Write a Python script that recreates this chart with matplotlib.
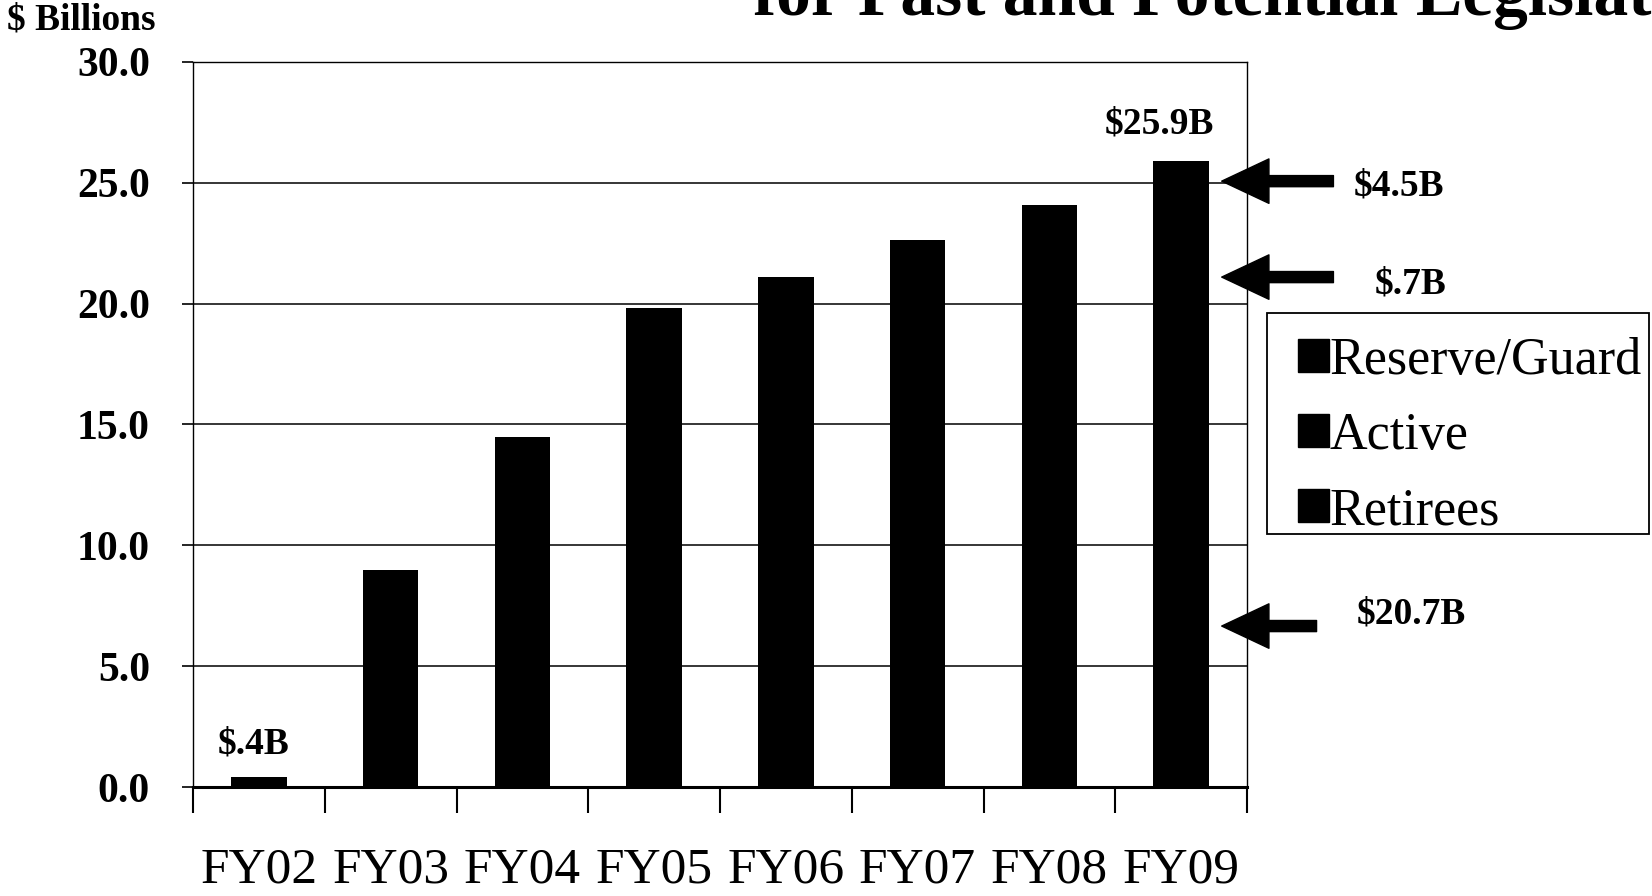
import matplotlib
matplotlib.use("Agg")
import matplotlib.pyplot as plt
from matplotlib.patches import Patch, Rectangle

# Annual cost, $ billions
years = ["FY02", "FY03", "FY04", "FY05", "FY06", "FY07", "FY08", "FY09"]
totals = [0.4, 9.0, 14.5, 19.8, 21.1, 22.65, 24.1, 25.9]

# FY09 breakdown by beneficiary group
groups = ["Reserve/Guard", "Active", "Retirees"]
fy09_parts = [4.5, 0.7, 20.7]
part_labels = ["$4.5B", "$.7B", "$20.7B"]

yticks = [0.0, 5.0, 10.0, 15.0, 20.0, 25.0, 30.0]

SERIF = ["Liberation Serif", "DejaVu Serif"]
plt.rcParams["font.family"] = SERIF

W, H, DPI = 1652, 896, 100
fig = plt.figure(figsize=(W / DPI, H / DPI), dpi=DPI)
fig.patch.set_facecolor("white")

x0, x1 = 193, 1247
y0, y1 = 787, 62
ax = fig.add_axes([x0 / W, 1 - y0 / H, (x1 - x0) / W, (y0 - y1) / H])

xs = list(range(len(years)))
ax.bar(xs, totals, width=0.42, color="black", zorder=3)

ax.set_xlim(-0.5, len(years) - 0.5)
ax.set_ylim(0, 30)

# gridlines
ax.set_yticks(yticks)
ax.set_yticklabels([f"{v:.1f}" for v in yticks], fontsize=30, fontweight="bold")
ax.yaxis.grid(True, color="black", linewidth=1.1, zorder=0)
ax.set_axisbelow(True)
ax.tick_params(axis="y", direction="out", length=8, width=1.2, pad=23)

# category boundaries carry the ticks, centres carry the labels
ax.set_xticks([i - 0.5 for i in range(len(years) + 1)])
ax.set_xticklabels([])
ax.tick_params(axis="x", which="major", direction="out", length=19, width=1.5)
ax.set_xticks(xs, minor=True)
ax.set_xticklabels(years, minor=True, fontsize=37)
ax.tick_params(axis="x", which="minor", length=0, pad=43)

for side in ("left", "right", "top"):
    ax.spines[side].set_linewidth(1.0)
ax.spines["bottom"].set_linewidth(2.2)

# value labels on first and last bars
ax.annotate("$.4B", xy=(xs[0], totals[0]), xytext=(-4, 24), textcoords="offset points",
            ha="center", va="center", fontsize=27, fontweight="bold")
ax.annotate("$25.9B", xy=(xs[-1], totals[-1]), xytext=(-16, 27), textcoords="offset points",
            ha="center", va="center", fontsize=27, fontweight="bold")

# arrows pointing at FY09 components
arrow_tips = [25.07, 21.1, 6.66]
tail_x = [1.082, 1.082, 1.066]
label_x = [1.101, 1.121, 1.104]
label_y = [24.87, 20.81, 7.16]
for tip, tx, lx, ly, lab in zip(arrow_tips, tail_x, label_x, label_y, part_labels):
    ax.annotate("", xy=(0.976, tip), xytext=(tx, tip),
                xycoords=("axes fraction", "data"), textcoords=("axes fraction", "data"),
                arrowprops=dict(facecolor="black", edgecolor="black", width=8,
                                headwidth=32, headlength=34, shrink=0),
                annotation_clip=False)
    ax.text(lx, ly, lab, transform=ax.get_yaxis_transform(), ha="left", va="center",
            fontsize=27, fontweight="bold", clip_on=False)

# legend: entries plus a plain rectangular frame
fig.patches.append(Rectangle((1267 / W, 1 - 534 / H), (1649 - 1267) / W, (534 - 313) / H,
                             transform=fig.transFigure, facecolor="white",
                             edgecolor="black", linewidth=1.3, zorder=1))
handles = [Patch(facecolor="black", edgecolor="black", label=g) for g in groups]
leg = fig.legend(handles=handles, loc="upper left",
                 bbox_to_anchor=(1298 / W, 1 - 337 / H), bbox_transform=fig.transFigure,
                 fontsize=37.5, frameon=False,
                 handlelength=0.6, handleheight=0.6, handletextpad=0.0,
                 labelspacing=0.52, borderpad=0, borderaxespad=0)
leg.set_zorder(2)

fig.text(7 / W, 1 - 3 / H, "$ Billions", ha="left", va="top", fontsize=27, fontweight="bold")
fig.text(753 / W, 1 - 15 / H, "for Past and Potential Legislation", ha="left",
         va="baseline", fontsize=50, fontweight="bold")

fig.savefig("out.png", dpi=DPI, facecolor="white")
